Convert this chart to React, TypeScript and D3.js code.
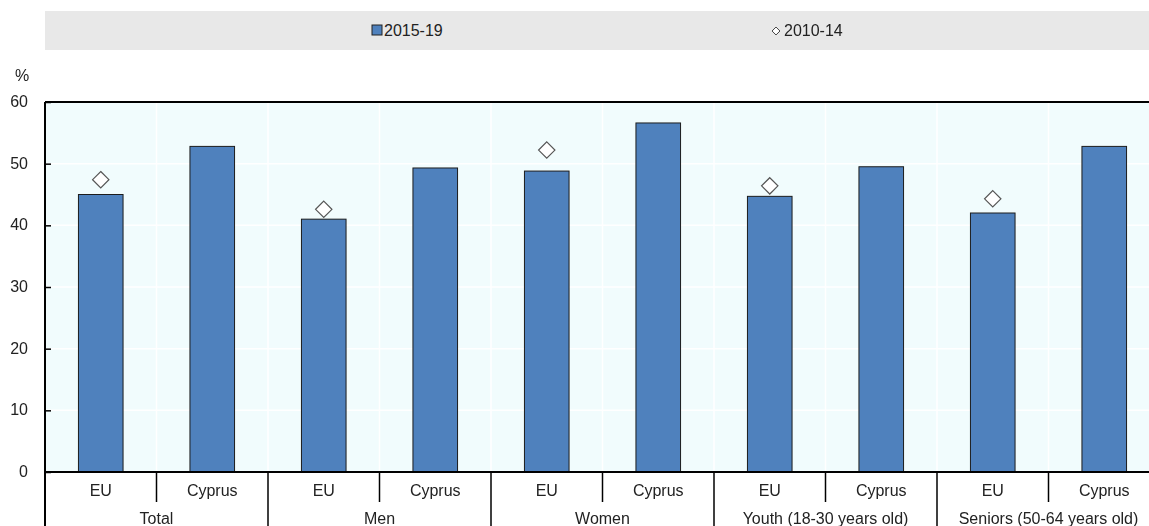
import React, { useEffect, useRef } from 'react';
import * as d3 from 'd3';

const groups = ['Total', 'Men', 'Women', 'Youth (18-30 years old)', 'Seniors (50-64 years old)'];
const countries = ['EU', 'Cyprus'];
// 2015-19 values, per group: [EU, Cyprus]
const recent = [
  [45.0, 52.8],
  [41.0, 49.3],
  [48.8, 56.6],
  [44.7, 49.5],
  [42.0, 52.8],
];
// 2010-14 values (EU only)
const earlier = [47.4, 42.6, 52.2, 46.4, 44.3];
const yTicks = [0, 10, 20, 30, 40, 50, 60];

const W = 1149;
const H = 526;

export default function App() {
  const ref = useRef<SVGSVGElement>(null);

  useEffect(() => {
    const svg = d3.select(ref.current);
    svg.selectAll('*').remove();

    const left = 45, right = 1160, top = 102, bottom = 472;
    const font = 'Liberation Sans, Arial, sans-serif';
    const fs = 16;

    const keys = groups.flatMap((g, gi) => countries.map(c => `${gi}-${c}`));
    const x = d3.scaleBand().domain(keys).range([left, right]).paddingInner(0.6).paddingOuter(0.3);
    const step = x.step();
    const y = d3.scaleLinear().domain([0, 60]).range([bottom, top]);

    // legend
    svg.append('rect').attr('x', 45).attr('y', 11).attr('width', W - 45).attr('height', 39).attr('fill', '#e8e8e8');
    svg.append('rect').attr('x', 372).attr('y', 25).attr('width', 10).attr('height', 10)
      .attr('fill', '#4f81bd').attr('stroke', '#222').attr('stroke-width', 1);
    svg.append('text').attr('x', 384).attr('y', 36).attr('font-family', font).attr('font-size', fs)
      .attr('fill', '#222').text('2015-19');
    svg.append('path').attr('d', d3.symbol(d3.symbolDiamond2, 40)()).attr('transform', 'translate(776,31)')
      .attr('fill', '#fff').attr('stroke', '#444').attr('stroke-width', 1);
    svg.append('text').attr('x', 784).attr('y', 36).attr('font-family', font).attr('font-size', fs)
      .attr('fill', '#222').text('2010-14');

    // plot background
    svg.append('rect').attr('x', left).attr('y', top).attr('width', right - left).attr('height', bottom - top)
      .attr('fill', '#f1fcfd');

    // gridlines
    svg.append('g').selectAll('line').data(yTicks.slice(1, -1)).join('line')
      .attr('x1', left).attr('x2', right).attr('y1', d => y(d)).attr('y2', d => y(d))
      .attr('stroke', '#fff').attr('stroke-width', 1.5);
    const bounds = d3.range(1, keys.length).map(i => left + i * (right - left) / keys.length);
    svg.append('g').selectAll('line').data(bounds).join('line')
      .attr('x1', d => d).attr('x2', d => d).attr('y1', top).attr('y2', bottom)
      .attr('stroke', '#fff').attr('stroke-width', 1.5);

    // bars
    const barData = groups.flatMap((g, gi) => countries.map((c, ci) => ({ key: `${gi}-${c}`, v: recent[gi][ci] })));
    svg.append('g').selectAll('rect').data(barData).join('rect')
      .attr('x', d => x(d.key)!).attr('width', x.bandwidth())
      .attr('y', d => y(d.v)).attr('height', d => y(0) - y(d.v))
      .attr('fill', '#4f81bd').attr('stroke', '#1c1c1c').attr('stroke-width', 1);

    // diamonds
    svg.append('g').selectAll('path').data(earlier).join('path')
      .attr('d', d3.symbol(d3.symbolDiamond2, 170)())
      .attr('transform', (d, i) => `translate(${x(`${i}-EU`)! + x.bandwidth() / 2},${y(d)})`)
      .attr('fill', '#fff').attr('stroke', '#555').attr('stroke-width', 1.2);

    // y axis
    const ya = svg.append('g').attr('transform', `translate(${left},0)`)
      .call(d3.axisRight(y).tickValues(yTicks).tickSize(6).tickFormat(() => ''));
    ya.select('.domain').remove();
    ya.selectAll('line').attr('stroke', '#000').attr('stroke-width', 1.5);
    svg.append('g').selectAll('text').data(yTicks).join('text')
      .attr('x', 28).attr('y', d => y(d) + 5).attr('text-anchor', 'end')
      .attr('font-family', font).attr('font-size', fs).attr('fill', '#222').text(d => d);
    svg.append('text').attr('x', 22).attr('y', 81).attr('text-anchor', 'middle')
      .attr('font-family', font).attr('font-size', fs).attr('fill', '#222').text('%');

    // frame lines
    svg.append('line').attr('x1', left).attr('x2', right).attr('y1', top).attr('y2', top)
      .attr('stroke', '#000').attr('stroke-width', 2);
    svg.append('line').attr('x1', left).attr('x2', left).attr('y1', top).attr('y2', H)
      .attr('stroke', '#000').attr('stroke-width', 2);
    svg.append('line').attr('x1', left).attr('x2', right).attr('y1', bottom).attr('y2', bottom)
      .attr('stroke', '#000').attr('stroke-width', 2);

    // x separators and labels
    const groupW = step * 2;
    groups.forEach((g, gi) => {
      const gx = left + gi * groupW;
      if (gi > 0) {
        svg.append('line').attr('x1', gx).attr('x2', gx).attr('y1', bottom).attr('y2', H)
          .attr('stroke', '#000').attr('stroke-width', 1.5);
      }
      svg.append('line').attr('x1', gx + step).attr('x2', gx + step).attr('y1', bottom).attr('y2', bottom + 30)
        .attr('stroke', '#000').attr('stroke-width', 1.5);
      svg.append('text').attr('x', gx + groupW / 2).attr('y', bottom + 52).attr('text-anchor', 'middle')
        .attr('font-family', font).attr('font-size', fs).attr('fill', '#222').text(g);
      countries.forEach(c => {
        svg.append('text').attr('x', x(`${gi}-${c}`)! + x.bandwidth() / 2).attr('y', bottom + 24)
          .attr('text-anchor', 'middle').attr('font-family', font).attr('font-size', fs)
          .attr('fill', '#222').text(c);
      });
    });
  }, []);

  return (
    <div style={{ position: 'fixed', left: 0, top: 0, width: W, height: H, overflow: 'hidden' }}>
      <svg ref={ref} width={W} height={H} style={{ display: 'block' }} />
    </div>
  );
}
